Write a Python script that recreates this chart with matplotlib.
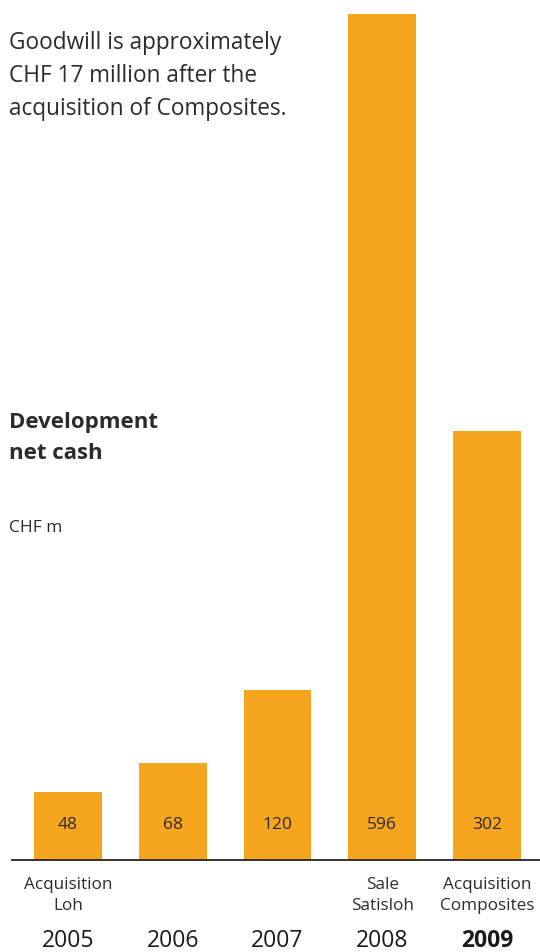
import matplotlib.pyplot as plt

years = ['2005', '2006', '2007', '2008', '2009']
net_cash = [48, 68, 120, 596, 302]
notes = ['Acquisition\nLoh', '', '', 'Sale\nSatisloh', 'Acquisition\nComposites']

plt.rcParams['font.family'] = ['Open Sans', 'DejaVu Sans']
bar_col = '#F6A61E'
txt_col = '#2b2b2b'

fig = plt.figure(figsize=(5.4, 9.52), dpi=100)
ax = fig.add_axes([12/540, 1 - 860/952, 528/540, (860 - 14)/952])

x = list(range(len(years)))
ax.bar(x, net_cash, width=0.649, color=bar_col, zorder=2)
ax.set_xlim(-0.5346, 4.506)
ax.set_ylim(0, 596)

for i, v in enumerate(net_cash):
    ax.text(i, 25, str(v), ha='center', va='center', fontsize=12.5, color=txt_col)

for s in ['top', 'right', 'left']:
    ax.spines[s].set_visible(False)
ax.spines['bottom'].set_linewidth(1.3)
ax.spines['bottom'].set_color('#222222')
ax.set_xticks([])
ax.set_yticks([])

# notes under the axis and the years
for i in x:
    xf = (68 + 104.75 * i) / 540
    if notes[i]:
        fig.text(xf, 1 - 877/952, notes[i], ha='center', va='top', fontsize=12.3,
                 color=txt_col, linespacing=1.45)
    fig.text(xf, 1 - 941/952, years[i], ha='center', va='center', fontsize=16.5,
             color='#1a1a1a', fontweight='bold' if i == 4 else 'normal')

fig.text(9/540, 1 - 76/952,
         'Goodwill is approximately\nCHF 17 million after the\nacquisition of Composites.',
         ha='left', va='center', fontsize=16.3, color=txt_col, linespacing=1.5)
fig.text(9/540, 1 - 438/952, 'Development\nnet cash', ha='left', va='center',
         fontsize=16, fontweight='bold', color=txt_col, linespacing=1.6)
fig.text(9/540, 1 - 528/952, 'CHF m', ha='left', va='center', fontsize=12.5, color=txt_col)

fig.savefig('out.png', dpi=100)
